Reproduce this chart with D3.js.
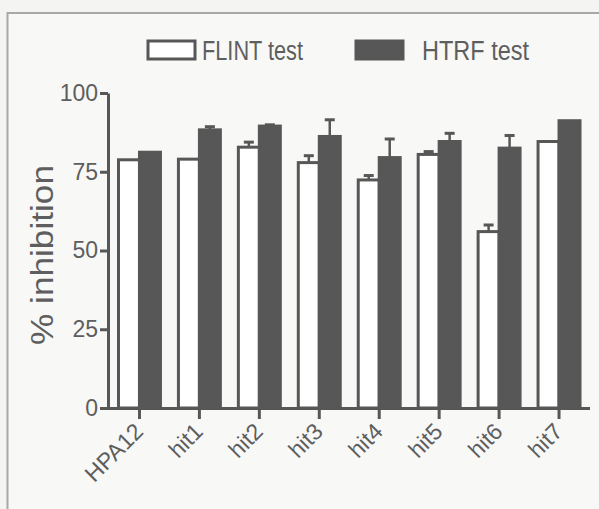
<!DOCTYPE html>
<html><head><meta charset="utf-8">
<script src="https://cdn.jsdelivr.net/npm/d3@7"></script>
<style>
html,body{margin:0;padding:0;background:#f4f4f3;}
svg{display:block;font-family:"Liberation Sans",Arial,sans-serif;}
</style></head>
<body>
<svg id="chart" width="599" height="509"></svg>
<script>
const categories = ["HPA12","hit1","hit2","hit3","hit4","hit5","hit6","hit7"];
const seriesNames = ["FLINT test","HTRF test"];
const flint = [78.8, 79.0, 82.8, 77.9, 72.4, 80.5, 56.0, 84.6];
const flintErr = [0, 0, 1.6, 2.2, 1.4, 0.9, 2.1, 0];
const htrf = [81.2, 88.3, 89.5, 86.2, 79.5, 84.6, 82.5, 91.2];
const htrfErr = [0, 1.0, 0.4, 5.3, 5.9, 2.6, 4.0, 0];
const yTicks = [0, 25, 50, 75, 100];
const yLabel = "% inhibition";

const ink = "#575757", textCol = "#5e5e5e";
const svg = d3.select("#chart");

svg.append("rect").attr("x",7.5).attr("y",13).attr("width",620).attr("height",520)
  .attr("fill","#f8f8f7").attr("stroke","#a8a8a8").attr("stroke-width",2);

const y = d3.scaleLinear().domain([0,100]).range([408,93]);
const x = d3.scaleBand().domain(categories).range([109.5,589]).paddingInner(0.3).paddingOuter(0.15);
const x1 = d3.scaleBand().domain(seriesNames).range([0,x.bandwidth()]);

const rows = categories.map((c,i)=>({c, vals:[
  {s:seriesNames[0], v:flint[i], e:flintErr[i], fill:"#ffffff"},
  {s:seriesNames[1], v:htrf[i], e:htrfErr[i], fill:ink}
]}));

const g = svg.append("g").selectAll("g").data(rows).join("g")
  .attr("transform", d=>`translate(${x(d.c)},0)`);

// error bars (upward only)
g.selectAll("line.err").data(d=>d.vals.filter(v=>v.e>0)).join("line")
  .attr("class","err")
  .attr("x1", v=>x1(v.s)+x1.bandwidth()/2).attr("x2", v=>x1(v.s)+x1.bandwidth()/2)
  .attr("y1", v=>y(v.v)).attr("y2", v=>y(v.v+v.e))
  .attr("stroke",ink).attr("stroke-width",2.5);
g.selectAll("line.cap").data(d=>d.vals.filter(v=>v.e>0)).join("line")
  .attr("class","cap")
  .attr("x1", v=>x1(v.s)+x1.bandwidth()/2-5).attr("x2", v=>x1(v.s)+x1.bandwidth()/2+5)
  .attr("y1", v=>y(v.v+v.e)).attr("y2", v=>y(v.v+v.e))
  .attr("stroke",ink).attr("stroke-width",3);

g.selectAll("rect").data(d=>d.vals).join("rect")
  .attr("x", v=>x1(v.s)).attr("width", x1.bandwidth())
  .attr("y", v=>y(v.v)).attr("height", v=>y(0)-y(v.v))
  .attr("fill", v=>v.fill).attr("stroke",ink).attr("stroke-width",3);

// y axis
const ya = svg.append("g").attr("transform","translate(108,0)")
  .call(d3.axisLeft(y).tickValues(yTicks).tickSize(8).tickSizeOuter(0).tickPadding(2));
ya.select(".domain").attr("stroke",ink).attr("stroke-width",3);
ya.selectAll(".tick line").attr("stroke",ink).attr("stroke-width",3);
ya.selectAll(".tick text").attr("fill",textCol).attr("font-size",23)
  .attr("font-family","Liberation Sans, Arial, sans-serif");

// x axis
const xa = svg.append("g").attr("transform","translate(0,408)")
  .call(d3.axisBottom(x).tickSize(11).tickSizeOuter(0).tickFormat(""));
xa.select(".domain").attr("stroke",ink).attr("stroke-width",3)
  .attr("d","M106.5,0.5H590");
xa.selectAll(".tick line").attr("stroke",ink).attr("stroke-width",3);

svg.append("g").selectAll("text").data(categories).join("text")
  .attr("transform", c=>`translate(${x(c)+x.bandwidth()/2+5},${433}) rotate(-45)`)
  .attr("text-anchor","end").attr("fill",textCol).attr("font-size",23)
  .text(c=>c);

// y label
svg.append("text").attr("transform","translate(53,255) rotate(-90)")
  .attr("text-anchor","middle").attr("fill",textCol).attr("font-size",32)
  .attr("textLength",180).attr("lengthAdjust","spacingAndGlyphs")
  .text(yLabel);

// legend
const legend = [{name:seriesNames[0], fill:"#ffffff", rx:148, tx:202, len:101},
                {name:seriesNames[1], fill:ink, rx:356, tx:422, len:107}];
const lg = svg.append("g").selectAll("g").data(legend).join("g");
lg.append("rect").attr("x",d=>d.rx).attr("y",41).attr("width",47).attr("height",18)
  .attr("fill",d=>d.fill).attr("stroke",ink).attr("stroke-width",3);
lg.append("text").attr("x",d=>d.tx).attr("y",60).attr("fill",textCol).attr("font-size",27)
  .attr("textLength", d=>d.len).attr("lengthAdjust","spacingAndGlyphs")
  .text(d=>d.name);
</script>
</body></html>
